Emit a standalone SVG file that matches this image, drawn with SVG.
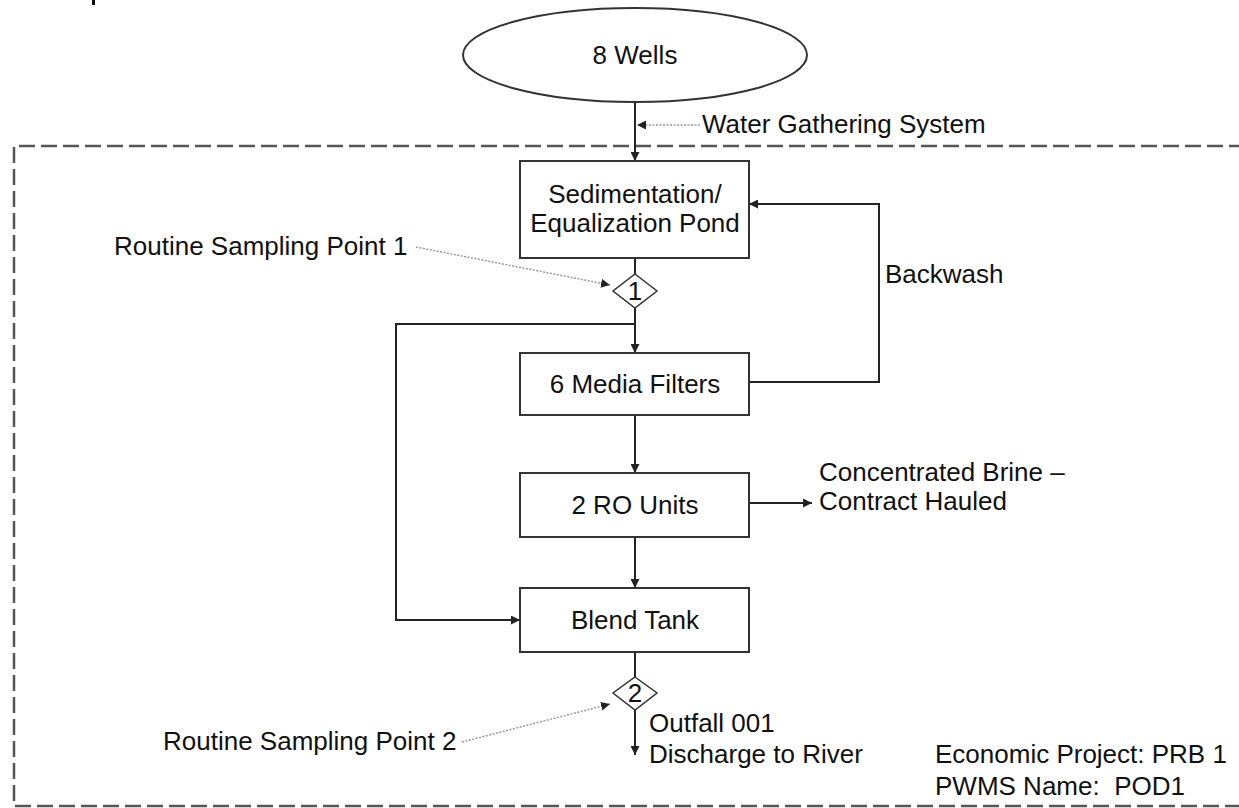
<svg xmlns="http://www.w3.org/2000/svg" width="1239" height="808" viewBox="0 0 1239 808">
<defs>
<style>
text{font-family:"Liberation Sans",Arial,sans-serif;font-size:26px;fill:#111}
.c{text-anchor:middle}
.box{fill:#fff;stroke:#333;stroke-width:2}
.ln{fill:none;stroke:#222;stroke-width:2}
.lead{fill:none;stroke:#999;stroke-width:1.5;stroke-dasharray:2 1.5}
.frame{fill:none;stroke:#555;stroke-width:2.5;stroke-dasharray:16 6}
</style>
<marker id="ah" viewBox="0 0 10 10" refX="10" refY="5" markerWidth="9" markerHeight="9" markerUnits="userSpaceOnUse" orient="auto">
<path d="M0,0 L10,5 L0,10 z" fill="#222"/>
</marker>
</defs>
<rect width="1239" height="808" fill="#fff"/>
<rect x="92" y="0" width="3" height="5" fill="#111"/>
<path class="frame" d="M1245,146 H14 V806 H1245"/>
<g id="connectors">
<path class="ln" d="M635,102 V161" marker-end="url(#ah)"/>
<path class="lead" d="M700,125 H637" marker-end="url(#ah)"/>
<path class="ln" d="M635,258 V274"/>
<path class="ln" d="M635,308 V353" marker-end="url(#ah)"/>
<path class="ln" d="M635,324 H396 V620 H520" marker-end="url(#ah)"/>
<path class="ln" d="M749,382 H879 V204 H749" marker-end="url(#ah)"/>
<path class="ln" d="M635,415 V473" marker-end="url(#ah)"/>
<path class="ln" d="M749,503 H812" marker-end="url(#ah)"/>
<path class="ln" d="M635,537 V588" marker-end="url(#ah)"/>
<path class="ln" d="M635,652 V677"/>
<path class="ln" d="M635,710 V755" marker-end="url(#ah)"/>
<path class="lead" d="M416,247 L610,285" marker-end="url(#ah)"/>
<path class="lead" d="M462,742 L610,704" marker-end="url(#ah)"/>
</g>
<g id="wells">
<ellipse cx="635" cy="55" rx="172" ry="47" fill="#fff" stroke="#333" stroke-width="2"/>
<text class="c" x="635" y="64">8 Wells</text>
</g>
<g id="sed-pond">
<rect class="box" x="520" y="161" width="229" height="97"/>
<text class="c" x="635" y="203">Sedimentation/</text>
<text class="c" x="635" y="232">Equalization Pond</text>
</g>
<g id="sp1">
<path d="M635,274 L657,291 L635,308 L613,291 Z" fill="#fff" stroke="#333" stroke-width="1.5"/>
<text class="c" x="635" y="300">1</text>
</g>
<g id="media-filters">
<rect class="box" x="520" y="353" width="229" height="62"/>
<text class="c" x="635" y="393">6 Media Filters</text>
</g>
<g id="ro-units">
<rect class="box" x="520" y="473" width="229" height="64"/>
<text class="c" x="635" y="514">2 RO Units</text>
</g>
<g id="blend-tank">
<rect class="box" x="520" y="588" width="229" height="64"/>
<text class="c" x="635" y="629">Blend Tank</text>
</g>
<g id="sp2">
<path d="M635,677 L657,693 L635,710 L613,693 Z" fill="#fff" stroke="#333" stroke-width="1.5"/>
<text class="c" x="635" y="702">2</text>
</g>
<g id="labels">
<text x="702" y="133">Water Gathering System</text>
<text x="885" y="283">Backwash</text>
<text x="114" y="255">Routine Sampling Point 1</text>
<text x="819" y="481">Concentrated Brine –</text>
<text x="819" y="510">Contract Hauled</text>
<text x="649" y="732">Outfall 001</text>
<text x="649" y="763">Discharge to River</text>
<text x="163" y="750">Routine Sampling Point 2</text>
<text x="935" y="763">Economic Project: PRB 1</text>
<text x="935" y="795" xml:space="preserve">PWMS Name:  POD1</text>
</g>
</svg>
